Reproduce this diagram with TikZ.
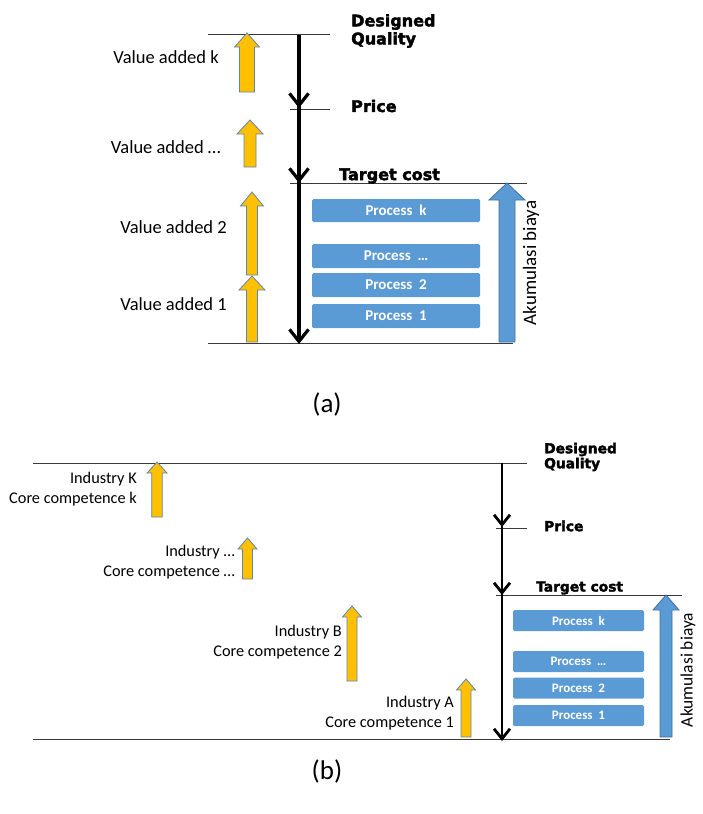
\documentclass[tikz,border=0pt]{standalone}
\usepackage{fontspec}
\setmainfont{Carlito}
\newfontfamily\heavyfont{DejaVu Sans Bold}[FakeBold=2.4]
\usetikzlibrary{arrows.meta}
\definecolor{procblue}{HTML}{5B9BD5}
\definecolor{procedge}{HTML}{41719C}
\definecolor{goldfill}{HTML}{FFC000}
\definecolor{goldedge}{HTML}{5B85B8}
\definecolor{rulegray}{HTML}{3A3A3A}
\newcommand\uparrowshape[7]{%
  \path[#1] (#2-#5,#4) -- (#2-#5,#3+#7) -- (#2-#6,#3+#7) -- (#2,#3) -- (#2+#6,#3+#7) -- (#2+#5,#3+#7) -- (#2+#5,#4) -- cycle;}
\tikzset{
  hline/.style={draw=rulegray, line width=0.9pt},
  flowa/.style={line width=3.2pt, -{Straight Barb[length=12pt,width=19pt]}},
  flowb/.style={line width=2.8pt, -{Straight Barb[length=10pt,width=16pt]}},
  procbox/.style={fill=procblue, rounded corners=1.5pt, text=white, inner sep=0pt},
  procfonta/.style={font=\bfseries\fontsize{15}{16}\selectfont},
  procfontb/.style={font=\bfseries\fontsize{13}{14}\selectfont},
  vlabel/.style={font=\fontsize{18.5}{22}\selectfont, anchor=east, inner sep=0pt},
  ilabel/.style={font=\fontsize{16.3}{20}\selectfont, anchor=east, align=right, inner sep=0pt},
  heavya/.style={font=\heavyfont\fontsize{16}{18}\selectfont, anchor=west, align=left, inner sep=0pt},
  heavyb/.style={font=\heavyfont\fontsize{13.8}{15}\selectfont, anchor=west, align=left, inner sep=0pt},
  goldarrow/.style={fill=goldfill, draw=goldedge, line width=0.8pt},
  bluearrow/.style={fill=procblue, draw=procedge, line width=0.8pt},
  vertlabel/.style={rotate=90, inner sep=0pt},
  caption/.style={font=\fontsize{27}{30}\selectfont, inner sep=0pt},
}
\begin{document}
\begin{tikzpicture}[x=1pt,y=-1pt]
\useasboundingbox (0,0) rectangle (702,814);
% ---------- (a) ----------
\coordinate (aL1) at (208,34);  \coordinate (aR1) at (330,34);
\coordinate (aL2) at (290,109); \coordinate (aR2) at (330,109);
\coordinate (aL3) at (290,183); \coordinate (aR3) at (527,183);
\coordinate (aL4) at (208,343); \coordinate (aR4) at (513,343);
\draw[hline] (aL1) -- (aR1);
\draw[hline] (aL2) -- (aR2);
\draw[hline] (aL3) -- (aR3);
\draw[hline] (aL4) -- (aR4);
\coordinate (aDQ) at (299,35);
\coordinate (aPr) at (299,108);
\coordinate (aPs) at (299,106);
\coordinate (aTC) at (299,183);
\coordinate (aTs) at (299,181);
\coordinate (aBt) at (299,344);
\draw[flowa] (aDQ) -- (aPr);
\draw[flowa] (aPs) -- (aTC);
\draw[flowa] (aTs) -- (aBt);
\node[heavya] (aDesigned) at (351,31) {Designed\\Quality};
\node[heavya] (aPrice) at (351,106) {Price};
\node[heavya] (aTarget) at (339,176) {Target cost};
\uparrowshape{goldarrow}{247}{33}{92}{7.5}{12.5}{14}
\uparrowshape{goldarrow}{250}{120}{167}{6}{13}{14}
\uparrowshape{goldarrow}{252}{192}{275}{5.5}{11.5}{14}
\uparrowshape{goldarrow}{252}{276}{342}{5.5}{13}{14}
\node[vlabel] (vk) at (219,57) {Value added k};
\node[vlabel] (vd) at (221,147) {Value added …};
\node[vlabel] (v2) at (227,227) {Value added 2};
\node[vlabel] (v1) at (227,304) {Value added 1};
\node[procbox, procfonta, minimum width=168pt, minimum height=23pt] (apk) at (396,210.5) {Process~~k};
\node[procbox, procfonta, minimum width=168pt, minimum height=24pt] (apd) at (396,256) {Process~~…};
\node[procbox, procfonta, minimum width=168pt, minimum height=24pt] (ap2) at (396,285) {Process~~2};
\node[procbox, procfonta, minimum width=168pt, minimum height=24pt] (ap1) at (396,316) {Process~~1};
\uparrowshape{bluearrow}{507}{183}{342}{8}{18}{17}
\node[vertlabel, font=\fontsize{19}{22}\selectfont] (aAkum) at (531,263) {Akumulasi biaya};
\node[caption] (capa) at (327,404) {(a)};
% ---------- (b) ----------
\coordinate (bL1) at (33,463);  \coordinate (bR1) at (527,463);
\coordinate (bL2) at (496,528); \coordinate (bR2) at (527,528);
\coordinate (bL3) at (496,595); \coordinate (bR3) at (682,595);
\coordinate (bL4) at (33,739);  \coordinate (bR4) at (670,739);
\draw[hline] (bL1) -- (bR1);
\draw[hline] (bL2) -- (bR2);
\draw[hline] (bL3) -- (bR3);
\draw[hline] (bL4) -- (bR4);
\coordinate (bDQ) at (502,463);
\coordinate (bPr) at (502,527);
\coordinate (bPs) at (502,525);
\coordinate (bTC) at (502,595);
\coordinate (bTs) at (502,593);
\coordinate (bBt) at (502,741);
\draw[flowb] (bDQ) -- (bPr);
\draw[flowb] (bPs) -- (bTC);
\draw[flowb] (bTs) -- (bBt);
\node[heavyb] (bDesigned) at (544,457) {Designed\\Quality};
\node[heavyb] (bPrice) at (544,526) {Price};
\node[heavyb] (bTarget) at (536,588) {Target cost};
\uparrowshape{goldarrow}{157}{462}{517}{5.3}{10}{11}
\uparrowshape{goldarrow}{247.5}{538}{579}{5}{9.5}{11}
\uparrowshape{goldarrow}{352}{606}{681}{5}{9.5}{11}
\uparrowshape{goldarrow}{466}{679}{737}{5}{9.5}{11}
\node[ilabel] (iK) at (137,489) {Industry K\\Core competence k};
\node[ilabel] (iD) at (235,562) {Industry …\\Core competence …};
\node[ilabel] (iB) at (342,642) {Industry B\\Core competence 2};
\node[ilabel] (iA) at (454,713) {Industry A\\Core competence 1};
\node[procbox, procfontb, minimum width=131pt, minimum height=21pt] (bpk) at (578.5,620.5) {Process~~k};
\node[procbox, procfontb, minimum width=131pt, minimum height=21pt] (bpd) at (578.5,661.5) {Process~~…};
\node[procbox, procfontb, minimum width=131pt, minimum height=21pt] (bp2) at (578.5,688) {Process~~2};
\node[procbox, procfontb, minimum width=131pt, minimum height=21pt] (bp1) at (578.5,715.5) {Process~~1};
\uparrowshape{bluearrow}{666}{595}{737}{6}{13}{15}
\node[vertlabel, font=\fontsize{17.4}{20}\selectfont] (bAkum) at (688,670) {Akumulasi biaya};
\node[caption] (capb) at (327,771) {(b)};
\end{tikzpicture}
\end{document}
